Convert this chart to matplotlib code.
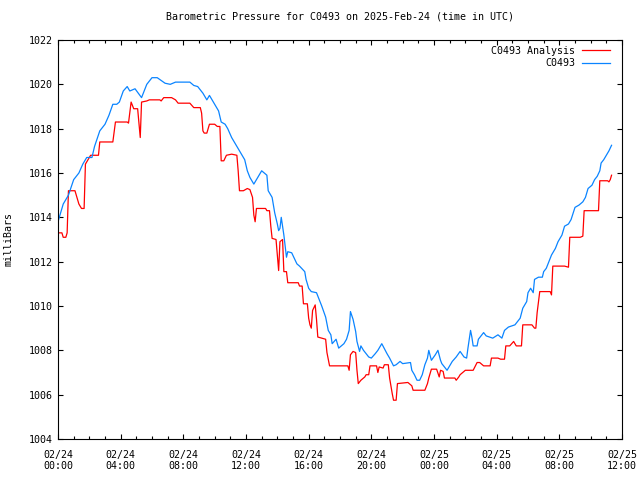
import matplotlib
matplotlib.use("Agg")
import matplotlib.pyplot as plt
import numpy as np

plt.rcParams['font.family'] = ['DejaVu Sans Mono']

# Observed station pressure (minutes since 2025-02-24 00:00 UTC, mb)
obs_min = [0, 20, 40, 60, 80, 95, 110, 130, 140, 160, 180, 195, 210, 225, 235, 250,
           265, 275, 295, 320, 340, 360, 380, 410, 430, 450, 480, 505, 520, 535, 555,
           570, 580, 600, 615, 625, 640, 650, 665, 680, 690, 705, 715, 725, 735, 750,
           760, 780, 790, 800, 805, 820, 830, 840, 845, 850, 855, 865, 870, 875, 880,
           895, 915, 925, 945, 950, 960, 970, 990, 1000, 1010, 1025, 1035, 1045, 1050,
           1065, 1075, 1095, 1105, 1115, 1120, 1130, 1140, 1145, 1155, 1160, 1170, 1190,
           1200, 1215, 1225, 1240, 1260, 1270, 1285, 1295, 1310, 1320, 1350, 1355, 1365,
           1375, 1385, 1395, 1405, 1415, 1420, 1430, 1445, 1455, 1465, 1470, 1490, 1510,
           1525, 1540, 1555, 1565, 1570, 1580, 1585, 1590, 1605, 1610, 1630, 1640, 1665,
           1685, 1700, 1710, 1725, 1750, 1760, 1770, 1780, 1785, 1795, 1800, 1810, 1820,
           1825, 1840, 1855, 1860, 1870, 1880, 1890, 1905, 1915, 1930, 1940, 1955, 1965,
           1980, 1995, 2010, 2020, 2030, 2045, 2055, 2065, 2075, 2080, 2090, 2100, 2110,
           2120]
obs_mb = [1013.8, 1014.6, 1015.0, 1015.7, 1016.0, 1016.4, 1016.7, 1016.7, 1017.2, 1017.9,
          1018.2, 1018.6, 1019.1, 1019.1, 1019.2, 1019.7, 1019.9, 1019.7, 1019.8, 1019.4,
          1020.0, 1020.3, 1020.3, 1020.05, 1020.0, 1020.1, 1020.1, 1020.1, 1019.95, 1019.9,
          1019.6, 1019.3, 1019.5, 1019.1, 1018.8, 1018.3, 1018.2, 1018.0, 1017.6, 1017.3,
          1017.1, 1016.8, 1016.6, 1016.1, 1015.8, 1015.5, 1015.7, 1016.1, 1016.0, 1015.9,
          1015.2, 1014.9, 1014.2, 1013.7, 1013.4, 1013.5, 1014.0, 1013.2, 1012.7, 1012.2,
          1012.45, 1012.4, 1011.9, 1011.8, 1011.55, 1011.2, 1010.8, 1010.65, 1010.6, 1010.3,
          1010.0, 1009.5, 1008.9, 1008.7, 1008.3, 1008.5, 1008.1, 1008.3, 1008.5, 1008.9,
          1009.75, 1009.4, 1008.85, 1008.4, 1007.95, 1008.2, 1008.0, 1007.7, 1007.65, 1007.85,
          1008.0, 1008.3, 1007.85, 1007.65, 1007.3, 1007.35, 1007.5, 1007.4, 1007.45, 1007.1,
          1006.9, 1006.65, 1006.65, 1006.9, 1007.35, 1007.65, 1008.0, 1007.55, 1007.8, 1008.0,
          1007.55, 1007.4, 1007.1, 1007.5, 1007.7, 1007.95, 1007.7, 1007.65, 1008.1, 1008.9,
          1008.6, 1008.2, 1008.2, 1008.5, 1008.8, 1008.65, 1008.55, 1008.7, 1008.55, 1008.9,
          1009.05, 1009.15, 1009.3, 1009.45, 1009.9, 1010.0, 1010.2, 1010.6, 1010.8, 1010.6,
          1011.2, 1011.3, 1011.3, 1011.55, 1011.7, 1012.0, 1012.3, 1012.6, 1012.9, 1013.2,
          1013.6, 1013.7, 1013.9, 1014.45, 1014.55, 1014.7, 1014.9, 1015.3, 1015.45, 1015.7,
          1015.85, 1016.1, 1016.45, 1016.6, 1016.8, 1017.0, 1017.25]

# Analysis pressure
ana_min = [0, 15, 20, 30, 35, 40, 65, 80, 90, 100, 105, 115, 125, 155, 160, 210, 220,
           265, 270, 280, 290, 305, 315, 320, 340, 350, 390, 395, 405, 435, 450, 460,
           505, 520, 545, 550, 555, 560, 570, 580, 600, 610, 620, 625, 635, 645, 665,
           685, 690, 695, 710, 725, 735, 745, 750, 755, 760, 795, 800, 810, 815, 820,
           835, 840, 845, 850, 860, 865, 875, 880, 920, 925, 935, 940, 955, 960, 965,
           970, 975, 985, 990, 995, 1025, 1030, 1040, 1110, 1115, 1120, 1130, 1140, 1145,
           1150, 1160, 1175, 1180, 1190, 1195, 1220, 1225, 1230, 1245, 1250, 1265, 1270,
           1280, 1285, 1295, 1300, 1340, 1355, 1360, 1405, 1415, 1420, 1430, 1450, 1460,
           1465, 1475, 1480, 1520, 1525, 1535, 1540, 1560, 1590, 1605, 1615, 1630, 1655,
           1660, 1685, 1695, 1710, 1715, 1730, 1745, 1755, 1775, 1780, 1815, 1825, 1830,
           1835, 1845, 1885, 1890, 1895, 1940, 1955, 1960, 2000, 2010, 2015, 2070, 2075,
           2105, 2110, 2115, 2120]
ana_mb = [1013.3, 1013.3, 1013.1, 1013.1, 1013.3, 1015.2, 1015.2, 1014.6, 1014.4, 1014.4,
          1016.4, 1016.6, 1016.8, 1016.8, 1017.4, 1017.4, 1018.3, 1018.3, 1018.25, 1019.2,
          1018.9, 1018.9, 1017.6, 1019.2, 1019.25, 1019.3, 1019.3, 1019.25, 1019.4, 1019.4,
          1019.3, 1019.15, 1019.15, 1018.95, 1018.95, 1018.7, 1017.9, 1017.8, 1017.8, 1018.2,
          1018.2, 1018.1, 1018.1, 1016.55, 1016.55, 1016.8, 1016.85, 1016.8, 1016.1, 1015.2,
          1015.2, 1015.3, 1015.25, 1014.9, 1014.1, 1013.8, 1014.4, 1014.4, 1014.3, 1014.3,
          1013.6, 1013.05, 1013.0, 1012.3, 1011.6, 1012.9, 1013.0, 1011.55, 1011.55, 1011.05,
          1011.05, 1010.9, 1010.9, 1010.1, 1010.1, 1009.45, 1009.15, 1009.0, 1009.8, 1010.05,
          1009.4, 1008.6, 1008.5, 1007.9, 1007.3, 1007.3, 1007.1, 1007.8, 1007.95, 1007.9,
          1007.1, 1006.5, 1006.65, 1006.8, 1006.9, 1006.9, 1007.3, 1007.3, 1007.0, 1007.25,
          1007.2, 1007.35, 1007.35, 1006.75, 1006.05, 1005.75, 1005.75, 1006.5, 1006.55,
          1006.4, 1006.2, 1006.2, 1006.5, 1006.75, 1007.15, 1007.15, 1006.8, 1007.1, 1007.05,
          1006.75, 1006.75, 1006.65, 1006.8, 1006.9, 1007.1, 1007.1, 1007.45, 1007.45, 1007.3,
          1007.3, 1007.65, 1007.65, 1007.6, 1007.6, 1008.2, 1008.2, 1008.4, 1008.2, 1008.2,
          1009.15, 1009.15, 1009.0, 1009.0, 1009.7, 1010.65, 1010.65, 1010.5, 1011.8, 1011.8,
          1011.75, 1013.1, 1013.1, 1013.15, 1014.3, 1014.3, 1015.65, 1015.65, 1015.6, 1015.7,
          1015.9]

xtick_hours = [0, 4, 8, 12, 16, 20, 24, 28, 32, 36]
xtick_labels = ["02/24\n00:00", "02/24\n04:00", "02/24\n08:00", "02/24\n12:00",
                "02/24\n16:00", "02/24\n20:00", "02/25\n00:00", "02/25\n04:00",
                "02/25\n08:00", "02/25\n12:00"]
ytick_vals = [1004, 1006, 1008, 1010, 1012, 1014, 1016, 1018, 1020, 1022]

fs = 7.2
fig = plt.figure(figsize=(6.4, 4.8), dpi=100)
ax = fig.add_axes([58/640, 1-439/480, 564/640, 399/480])

ax.plot(np.array(ana_min)/60.0, ana_mb, color='#ff0000', lw=0.9, label='C0493 Analysis')
ax.plot(np.array(obs_min)/60.0, obs_mb, color='#0a84ff', lw=0.9, label='C0493')

ax.set_xlim(0, 36)
ax.set_ylim(1004, 1022)
ax.set_xticks(xtick_hours)
ax.set_xticklabels(xtick_labels, fontsize=fs, linespacing=1.15)
ax.set_xticks(np.arange(0, 37, 1), minor=True)
ax.set_yticks(ytick_vals)
ax.set_yticklabels([str(v) for v in ytick_vals], fontsize=fs)
ax.tick_params(which='both', direction='in', top=True, right=True, width=0.8, color='black')
ax.tick_params(which='major', length=3.5)
ax.tick_params(which='minor', length=2)
ax.tick_params(axis='y', pad=4)
ax.tick_params(axis='x', pad=8)
for s in ax.spines.values():
    s.set_linewidth(0.8)

ax.set_title("Barometric Pressure for C0493 on 2025-Feb-24 (time in UTC)", fontsize=fs, pad=15)
ax.set_ylabel("milliBars", fontsize=fs, va='center')
ax.yaxis.set_label_coords((9-58)/564, 0.5)

ax.legend(loc='upper right', bbox_to_anchor=((610-58)/564, 1-(46-40)/399), frameon=False,
          markerfirst=False, fontsize=fs, handlelength=2.8, handletextpad=0.7,
          labelspacing=0.25, borderpad=0, borderaxespad=0)

fig.savefig("out.png", dpi=100)
